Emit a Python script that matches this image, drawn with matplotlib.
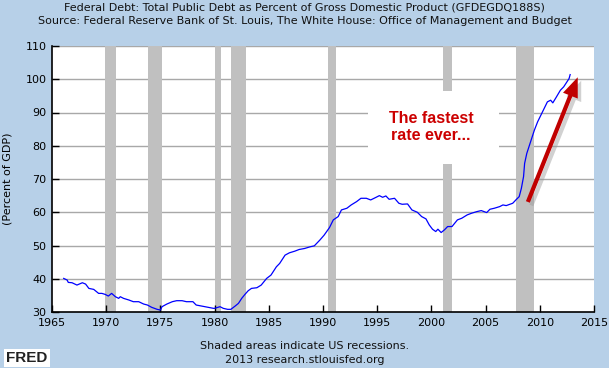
import matplotlib
matplotlib.use("Agg")
import matplotlib.pyplot as plt
import matplotlib.patheffects as pe
from matplotlib.patches import Rectangle

# ---- data ----
years = [1966.08, 1966.4, 1966.5, 1966.85, 1967.3, 1967.8, 1968.1, 1968.4, 1968.85, 1969.3,
         1969.6, 1969.9, 1970.2, 1970.5, 1970.85, 1971.15, 1971.3, 1971.6, 1972.1, 1972.5,
         1973.0, 1973.45, 1973.8, 1974.2, 1974.7, 1975.0, 1975.15, 1975.6, 1976.1, 1976.5,
         1977.0, 1977.4, 1978.0, 1978.3, 1979.1, 1979.9, 1980.0, 1980.5, 1980.8, 1981.2,
         1981.5, 1981.9, 1982.2, 1982.5, 1982.8, 1983.1, 1983.4, 1983.9, 1984.3, 1984.8,
         1985.2, 1985.7, 1986.0, 1986.5, 1986.9, 1987.4, 1987.8, 1988.3, 1988.8, 1989.2,
         1989.7, 1990.1, 1990.6, 1990.95, 1991.4, 1991.7, 1992.2, 1992.6, 1993.1, 1993.5,
         1994.0, 1994.4, 1994.9, 1995.2, 1995.5, 1995.8, 1996.1, 1996.6, 1997.0, 1997.3,
         1997.8, 1998.2, 1998.7, 1999.1, 1999.5, 1999.8, 2000.1, 2000.4, 2000.6, 2000.9,
         2001.2, 2001.5, 2001.9, 2002.4, 2002.8, 2003.3, 2003.7, 2004.2, 2004.6, 2005.1,
         2005.4, 2005.8, 2006.3, 2006.6, 2006.9, 2007.5, 2007.85, 2008.1, 2008.3, 2008.5,
         2008.6, 2008.8, 2009.1, 2009.3, 2009.5, 2009.8, 2010.1, 2010.4, 2010.7, 2011.0,
         2011.2, 2011.5, 2011.9, 2012.2, 2012.5, 2012.7, 2012.8]
debt_pct = [40.1, 39.6, 38.9, 38.8, 38.1, 38.8, 38.4, 37.1, 36.8, 35.6,
            35.6, 35.3, 34.8, 35.6, 34.6, 34.1, 34.6, 34.1, 33.6, 33.1,
            33.1, 32.4, 32.1, 31.4, 30.8, 30.6, 31.6, 32.4, 33.1, 33.4,
            33.4, 33.1, 33.1, 32.1, 31.6, 31.1, 31.1, 31.6, 31.1, 30.8,
            30.8, 31.8, 32.6, 34.1, 35.3, 36.4, 37.1, 37.3, 38.1, 40.1,
            41.1, 43.6, 44.6, 47.1, 47.8, 48.3, 48.8, 49.1, 49.6, 49.9,
            51.6, 53.1, 55.4, 57.7, 58.7, 60.7, 61.2, 62.2, 63.2, 64.2,
            64.2, 63.7, 64.5, 65.0, 64.5, 64.9, 63.9, 64.2, 62.7, 62.4,
            62.5, 60.7, 60.0, 58.7, 58.0, 56.2, 54.9, 54.2, 54.9, 53.9,
            54.7, 55.7, 55.7, 57.7, 58.2, 59.2, 59.7, 60.2, 60.5, 59.9,
            60.9, 61.2, 61.7, 62.2, 62.0, 62.7, 63.9, 64.7, 67.2, 70.7,
            74.7, 77.7, 80.7, 82.7, 84.7, 87.2, 89.2, 91.2, 93.2, 93.7,
            92.9, 94.5, 96.7, 97.7, 99.2, 100.2, 101.4]

recession_start = [1969.9, 1973.85, 1980.0, 1981.5, 1990.45, 2001.1, 2007.8]
recession_end = [1970.9, 1975.15, 1980.6, 1982.9, 1991.2, 2001.9, 2009.45]

x_ticks = [1965, 1970, 1975, 1980, 1985, 1990, 1995, 2000, 2005, 2010, 2015]
y_ticks = [30, 40, 50, 60, 70, 80, 90, 100, 110]

title = "Federal Debt: Total Public Debt as Percent of Gross Domestic Product (GFDEGDQ188S)"
subtitle = "Source: Federal Reserve Bank of St. Louis, The White House: Office of Management and Budget"
ylabel = "(Percent of GDP)"
footer1 = "Shaded areas indicate US recessions."
footer2 = "2013 research.stlouisfed.org"
note = "The fastest\nrate ever..."

# annotation arrow (data coords)
arrow_from = (2008.9, 63.1)
arrow_to = (2013.5, 100.6)

# box behind note
box_x = (1994.15, 2006.25)
box_y = (74.5, 96.5)
note_pos = (1999.95, 85.6)

BG = "#B7D0E8"
plt.rcParams['font.family'] = ['DejaVu Sans']

fig = plt.figure(figsize=(6.09, 3.68), dpi=100, facecolor=BG)
ax = fig.add_axes([52/609, 1-312/368, (594-52)/609, (312-46)/368])
ax.set_facecolor("white")

for s, e in zip(recession_start, recession_end):
    ax.axvspan(s, e, color="#C0C0C0", lw=0, zorder=1)

for y in y_ticks[1:]:
    ax.axhline(y, color="#A8A8A8", lw=1.0, zorder=0.5)

ax.add_patch(Rectangle((box_x[0], box_y[0]), box_x[1]-box_x[0], box_y[1]-box_y[0],
                       facecolor="white", edgecolor="none", zorder=2))

ax.plot(years, debt_pct, color="#0000FF", lw=0.9, zorder=3)

ax.text(note_pos[0], note_pos[1], note, color="#CC0000", fontsize=11.5, fontweight="bold",
        family=["Liberation Sans"], ha="center", va="center", linespacing=1.2, zorder=4)

ax.annotate("", xy=arrow_to, xytext=arrow_from,
            arrowprops=dict(arrowstyle="simple,head_length=1.5,head_width=1.2,tail_width=0.32",
                            mutation_scale=9.5, color="#C00000", lw=0,
                            shrinkA=0, shrinkB=0,
                            path_effects=[pe.SimplePatchShadow(offset=(2.5, -2.5), shadow_rgbFace="#999999", alpha=0.45),
                                          pe.Normal()]),
            zorder=5)

ax.set_xlim(1965, 2015)
ax.set_ylim(30, 110)
ax.set_xticks(x_ticks)
ax.set_yticks(y_ticks)
ax.tick_params(direction="in", length=5, width=1, colors="black", labelsize=8, pad=4)
for sp in ["top", "right"]:
    ax.spines[sp].set_visible(False)
for sp in ["left", "bottom"]:
    ax.spines[sp].set_color("black")
    ax.spines[sp].set_linewidth(1.2)
ax.set_ylabel(ylabel, fontsize=8)
ax.yaxis.set_label_coords(-0.072, 0.5)

fig.text(0.5, 1-7/368, title, ha="center", va="center", fontsize=8.0, color="#111111")
fig.text(0.5, 1-21/368, subtitle, ha="center", va="center", fontsize=8.0, color="#111111")
fig.text(0.5, 1-346/368, footer1, ha="center", va="center", fontsize=8.0, color="#111111")
fig.text(0.5, 1-360/368, footer2, ha="center", va="center", fontsize=8.0, color="#111111")

fig.text(6/609, 1-358/368, "FRED", ha="left", va="center", fontsize=11, fontweight="bold",
         family=["Liberation Sans"], color="#222222",
         bbox=dict(boxstyle="square,pad=0.15", facecolor="white", edgecolor="none"))

fig.savefig("out.png", dpi=100, facecolor=BG)
